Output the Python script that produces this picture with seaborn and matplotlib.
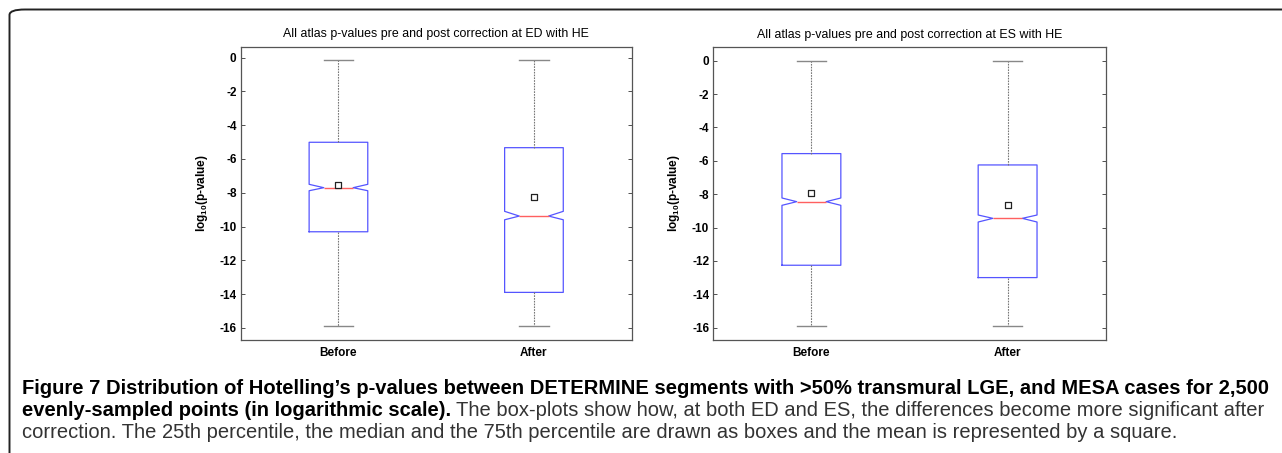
import numpy as np
import pandas as pd
import seaborn as sns
import matplotlib
matplotlib.use("Agg")
import matplotlib.pyplot as plt
from matplotlib import font_manager
from matplotlib.patches import FancyBboxPatch

# Values (log10 p-values)
stages = ["Before", "After"]

# ED panel: five-number summaries, mean and notch limits
ed_min = [-15.9, -15.9]
ed_q1 = [-10.31, -13.9]
ed_med = [-7.70, -9.38]
ed_q3 = [-5.01, -5.33]
ed_max = [-0.12, -0.15]
ed_mean = [-7.54, -8.27]
ed_notch_lo = [-7.88, -9.60]
ed_notch_hi = [-7.50, -9.10]

# ES panel
es_min = [-15.9, -15.9]
es_q1 = [-12.26, -13.0]
es_med = [-8.45, -9.45]
es_q3 = [-5.57, -6.25]
es_max = [0.0, 0.0]
es_mean = [-7.95, -8.63]
es_notch_lo = [-8.67, -9.67]
es_notch_hi = [-8.23, -9.25]

titles = ["All atlas p-values pre and post correction at ED with HE",
          "All atlas p-values pre and post correction at ES with HE"]
yticks = list(range(-16, 1, 2))

caption_bold_1 = ("Figure 7 Distribution of Hotelling\u2019s p-values between DETERMINE segments "
                  "with >50% transmural LGE, and MESA cases for 2,500")
caption_bold_2 = "evenly-sampled points (in logarithmic scale)."
caption_reg_2 = ("The box-plots show how, at both ED and ES, the differences become more "
                 "significant after")
caption_reg_3 = ("correction. The 25th percentile, the median and the 75th percentile are drawn "
                 "as boxes and the mean is represented by a square.")


def pick_font(names, fallback="DejaVu Sans"):
    for n in names:
        try:
            font_manager.findfont(n, fallback_to_default=False)
            return n
        except Exception:
            pass
    return fallback


plot_font = pick_font(["Liberation Sans", "Arial"])
plt.rcParams["font.family"] = [plot_font, "DejaVu Sans"]
plt.rcParams["mathtext.default"] = "regular"
plt.rcParams["axes.unicode_minus"] = False


def make_frame(mins, q1s, meds, q3s, maxs):
    # five-number summary per stage -> long form frame for seaborn
    rows = []
    for i, s in enumerate(stages):
        for v in (mins[i], q1s[i], meds[i], q3s[i], maxs[i]):
            rows.append({"stage": s, "value": v})
    return pd.DataFrame(rows)


fig = plt.figure(figsize=(12.82, 4.53), dpi=100)
W, H = 1282.0, 453.0

# outer frame (top + left edges with rounded corner)
frame = FancyBboxPatch((9.5 / W, -0.2), 1.2, (H - 9.5) / H + 0.2,
                       boxstyle="round,pad=0,rounding_size=0.012",
                       transform=fig.transFigure, fill=False,
                       edgecolor="#222222", linewidth=1.4, clip_on=False)
fig.patches.append(frame)

panels = [
    dict(rect=[240.7 / W, 1 - 340 / H, 391 / W, 293.3 / H], ylim=(-16.72, 0.65),
         data=(ed_min, ed_q1, ed_med, ed_q3, ed_max), mean=ed_mean,
         lo=ed_notch_lo, hi=ed_notch_hi, title=titles[0]),
    dict(rect=[713.3 / W, 1 - 340 / H, 392.4 / W, 292.7 / H], ylim=(-16.74, 0.80),
         data=(es_min, es_q1, es_med, es_q3, es_max), mean=es_mean,
         lo=es_notch_lo, hi=es_notch_hi, title=titles[1]),
]

for p in panels:
    ax = fig.add_axes(p["rect"])
    df = make_frame(*p["data"])
    sns.boxplot(data=df, x="stage", y="value", order=stages, ax=ax,
                notch=True, fill=False, whis=(0, 100), width=0.3,
                showfliers=False, saturation=1, color="#3333ff",
                boxprops={"color": "#5555ff", "linewidth": 0.9},
                medianprops={"color": "#ff6060", "linewidth": 1.0},
                whiskerprops={"color": "#777777", "linewidth": 0.8,
                              "linestyle": (0, (1.5, 1.0))},
                capprops={"color": "#888888", "linewidth": 1.0},
                capwidths=0.15)

    # set the notch limits (box outline has 11 vertices)
    boxes = [ln for ln in ax.lines if len(ln.get_xdata()) == 11]
    boxes.sort(key=lambda ln: np.mean(ln.get_xdata()))
    for i, ln in enumerate(boxes):
        y = np.asarray(ln.get_ydata(), dtype=float)
        y[[2, 9]] = p["lo"][i]
        y[[4, 7]] = p["hi"][i]
        ln.set_ydata(y)

    # mean as an open square
    ax.scatter(np.arange(len(stages)), p["mean"], marker="s", s=22,
               facecolors="white", edgecolors="#222222", linewidths=0.9, zorder=5)

    ax.set_xlim(-0.5, 1.5)
    ax.set_ylim(*p["ylim"])
    ax.set_yticks(yticks)
    ax.set_xlabel("")
    ax.tick_params(axis="y", direction="in", length=3, width=0.6, right=True,
                   labelsize=8.5, colors="#333333", labelcolor="black", pad=3)
    ax.tick_params(axis="x", length=0, labelsize=8.5, pad=5)
    for lab in ax.get_xticklabels() + ax.get_yticklabels():
        lab.set_fontweight("bold")
    for sp in ax.spines.values():
        sp.set_color("#555555")
        sp.set_linewidth(0.9)
    ax.set_title(p["title"], fontsize=8.9, pad=7, color="black")
    ax.set_ylabel("log$_{10}$(p-value)", fontsize=8.5, fontweight="bold")
    ax.yaxis.set_label_coords(-0.0785, 0.5)

# caption, sized to the widths seen in the reference
renderer = fig.canvas.get_renderer()
x0 = 22 / W
t1 = fig.text(x0, 1 - 389 / H, caption_bold_1, fontsize=12, fontweight="bold",
              va="center", ha="left")
size = 12 * (1244.0 / t1.get_window_extent(renderer).width)
t1.set_fontsize(size)

t2 = fig.text(x0, 1 - 411 / H, caption_bold_2, fontsize=size, fontweight="bold",
              va="center", ha="left")
bx = t2.get_window_extent(renderer).x1 + 5
t2r = fig.text(bx / W, 1 - 411 / H, caption_reg_2, fontsize=12,
               va="center", ha="left", color="#333333")
rsize = 12 * ((1262.0 - bx) / t2r.get_window_extent(renderer).width)
t2r.set_fontsize(rsize)
t3 = fig.text(x0, 1 - 433 / H, caption_reg_3, fontsize=rsize,
              va="center", ha="left", color="#333333")

fig.savefig("out.png", dpi=100)
